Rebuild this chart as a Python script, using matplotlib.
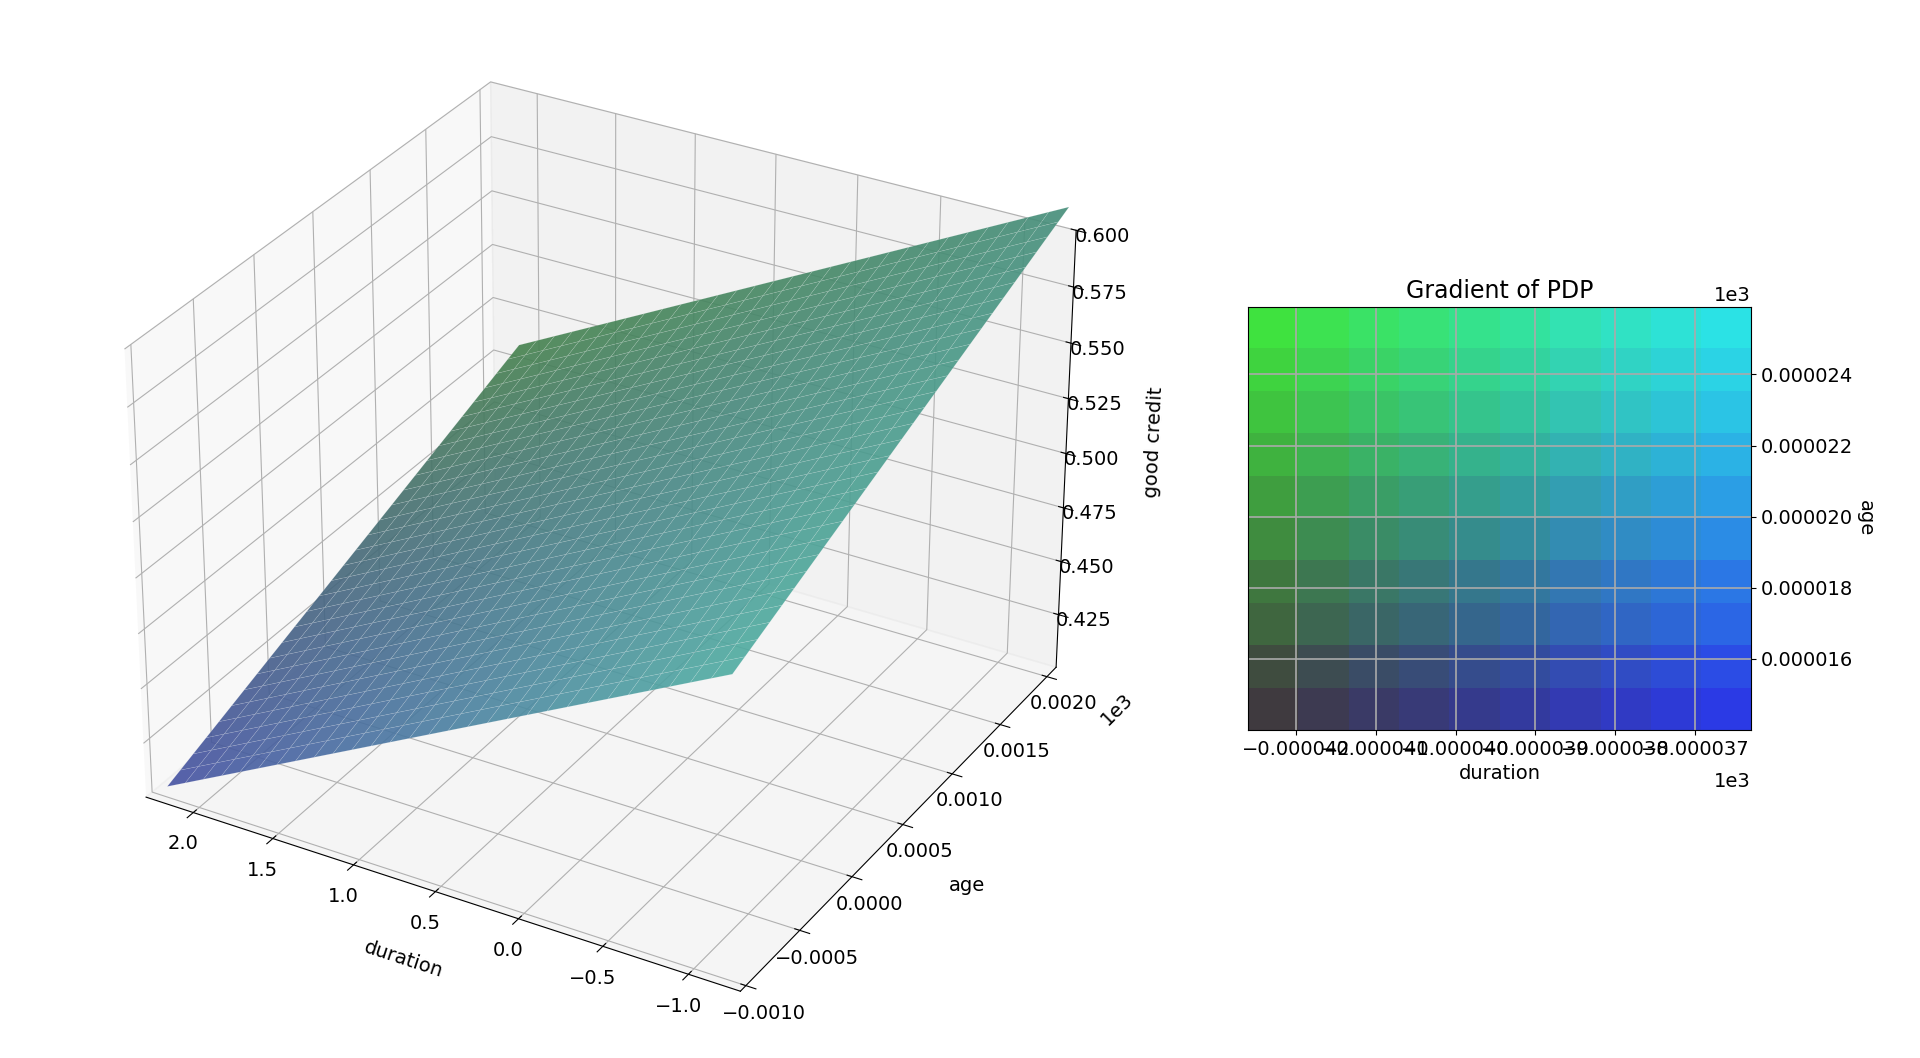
import matplotlib
matplotlib.use("Agg")
import matplotlib.pyplot as plt
import numpy as np

# surface corners (duration, age shown in 1e3 units, good credit)
duration_range = [-1.2, 2.2]
age_range = [-0.0010, 0.0022]
z_corner_low = 0.405       # duration 2.2, age -0.001
z_slope_duration = -0.038  # per unit duration
z_slope_age = 22.0         # per unit age (shown scale)

# surface corner colours: front-left, back-left, front-right, back-right
c_fl = (0.27, 0.31, 0.63)
c_bl = (0.27, 0.51, 0.29)
c_fr = (0.31, 0.67, 0.63)
c_br = (0.27, 0.55, 0.47)

# gradient image: green channel per row (top->bottom), blue channel per column
green_rows = [0.89, 0.83, 0.77, 0.70, 0.62, 0.55, 0.47, 0.40, 0.30, 0.23]
blue_cols = [0.25, 0.32, 0.40, 0.47, 0.55, 0.62, 0.70, 0.77, 0.84, 0.90]
red_cols = [0.25, 0.24, 0.23, 0.22, 0.21, 0.20, 0.20, 0.19, 0.18, 0.17]
dur_extent = [-0.0000426, -0.0000363]
age_extent = [0.0000140, 0.0000259]
dur_ticks = [-0.000042, -0.000041, -0.000040, -0.000039, -0.000038, -0.000037]
age_ticks = [0.000016, 0.000018, 0.000020, 0.000022, 0.000024]


def fmt(v, d):
    return ("%." + str(d) + "f") % v if v >= 0 else "\u2212" + ("%." + str(d) + "f") % -v


fig = plt.figure(figsize=(19.2, 10.58), dpi=100)

ax = fig.add_axes([0.0, 0.0, 0.62, 1.0], projection="3d")
n = 30
xs = np.linspace(duration_range[0], duration_range[1], n)
ys = np.linspace(age_range[0], age_range[1], n)
X, Y = np.meshgrid(xs, ys)
Z = z_corner_low + z_slope_duration * (X - duration_range[1]) + z_slope_age * (Y - age_range[0])
u = (Y - age_range[0]) / (age_range[1] - age_range[0])
v = (duration_range[1] - X) / (duration_range[1] - duration_range[0])
cols = np.zeros(X.shape + (4,))
for k in range(3):
    cols[..., k] = (c_fl[k] * (1 - u) * (1 - v) + c_bl[k] * u * (1 - v)
                    + c_fr[k] * (1 - u) * v + c_br[k] * u * v)
cols[..., 3] = 0.9
ax.plot_surface(X, Y, Z, facecolors=cols, rstride=1, cstride=1, linewidth=0.4,
                edgecolor=(1, 1, 1, 0.18), shade=False, antialiased=True)
ax.set_xlim(2.3, -1.3)
ax.set_ylim(-0.00105, 0.0021)
ax.set_zlim(0.40, 0.60)
xt = [2.0, 1.5, 1.0, 0.5, 0.0, -0.5, -1.0]
yt = [-0.0010, -0.0005, 0.0, 0.0005, 0.0010, 0.0015, 0.0020]
zt = [0.425, 0.450, 0.475, 0.500, 0.525, 0.550, 0.575, 0.600]
ax.set_xticks(xt)
ax.set_xticklabels([fmt(t, 1) for t in xt])
ax.set_yticks(yt)
ax.set_yticklabels([fmt(t, 4) for t in yt])
ax.set_zticks(zt)
ax.set_zticklabels([fmt(t, 3) for t in zt])
ax.tick_params(labelsize=14)
ax.set_xlabel("duration", fontsize=14, labelpad=14)
ax.set_ylabel("age", fontsize=14, labelpad=20)
ax.set_zlabel("good credit", fontsize=14, labelpad=18)
ax.view_init(elev=30, azim=-60)
ax.text2D(0.975, 0.315, "1e3", transform=ax.transAxes, fontsize=14, rotation=45)

ax2 = fig.add_axes([0.65, 0.31, 0.262, 0.40])
img = np.zeros((10, 10, 3))
for i, g in enumerate(green_rows):
    for j, b in enumerate(blue_cols):
        img[i, j] = [red_cols[j], g, b]
ax2.imshow(img, extent=[dur_extent[0], dur_extent[1], age_extent[0], age_extent[1]],
           aspect="auto", interpolation="nearest")
ax2.set_xticks(dur_ticks)
ax2.set_xticklabels([fmt(t, 6) for t in dur_ticks])
ax2.set_yticks(age_ticks)
ax2.set_yticklabels([fmt(t, 6) for t in age_ticks])
ax2.yaxis.tick_right()
ax2.yaxis.set_label_position("right")
ax2.grid(True, color="#aaaaaa", linewidth=1.2)
ax2.tick_params(labelsize=14)
ax2.set_xlabel("duration", fontsize=14)
ax2.set_ylabel("age", fontsize=14, rotation=270, labelpad=16)
ax2.set_title("Gradient of PDP", fontsize=17)
ax2.text(1.0, 1.005, "1e3", transform=ax2.transAxes, ha="right", va="bottom", fontsize=14)
ax2.text(1.0, -0.1, "1e3", transform=ax2.transAxes, ha="right", va="top", fontsize=14)

fig.savefig("out.png", dpi=100)
